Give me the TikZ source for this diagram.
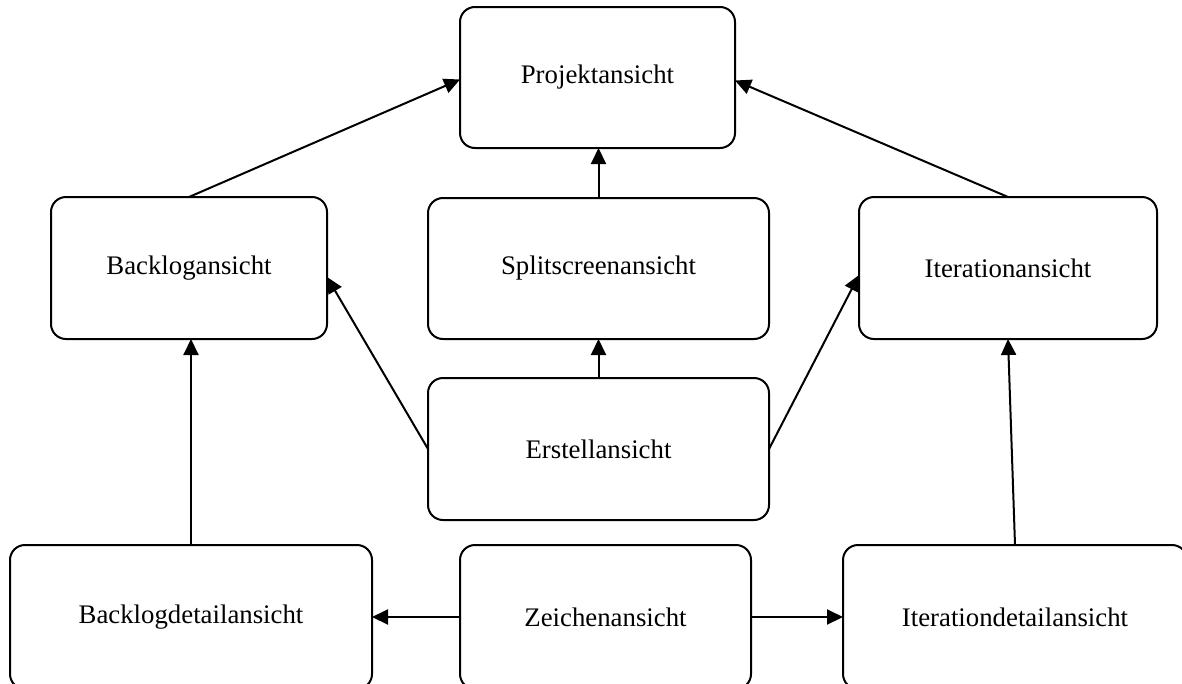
\documentclass[tikz,border=0pt]{standalone}
\usepackage{fontspec}
\setmainfont{Liberation Serif}
\usetikzlibrary{arrows.meta}
\begin{document}
\begin{tikzpicture}[x=1pt,y=-1pt,
  view/.style={draw=black, line width=2pt, rounded corners=15pt, fill=white,
    outer sep=0pt, inner sep=0pt, align=center,
    font=\fontsize{26.8}{32}\selectfont},
  link/.style={draw=black, line width=2pt, -{Triangle[length=16pt,width=15pt]}}]
  \useasboundingbox (0,0) rectangle (1182,683);
  \clip (0,0) rectangle (1182,683);

  % views
  \node[view, minimum width=275pt, minimum height=141pt] (proj)    at (597.5,77.5) {Projektansicht};
  \node[view, minimum width=276pt, minimum height=142pt] (backlog) at (189,268)    {Backlogansicht};
  \node[view, minimum width=341pt, minimum height=141pt] (split)   at (598.5,268.5){Splitscreenansicht};
  \node[view, minimum width=298pt, minimum height=142pt] (iter)    at (1008,268)   {Iterationansicht};
  \node[view, minimum width=341pt, minimum height=142pt] (erst)    at (598.5,449)  {Erstellansicht};
  \node[view, minimum width=362pt, minimum height=144pt] (bdetail) at (191,617)    {Backlogdetailansicht};
  \node[view, minimum width=291pt, minimum height=144pt] (zeichen) at (605.5,617)  {Zeichenansicht};
  \node[view, minimum width=344pt, minimum height=144pt] (idetail) at (1015,617)   {Iterationdetailansicht};

  % navigation
  \draw[link] (backlog.north) -- ([yshift=-2pt]proj.west);
  \draw[link] (iter.north) -- ([yshift=-3pt]proj.east);
  \draw[link] (split.north) -- (split.north |- proj.south);
  \draw[link] (erst.north) -- (split.south);
  \draw[link] (erst.west) -- ([yshift=-9pt]backlog.east);
  \draw[link] (erst.east) -- ([yshift=-7pt]iter.west);
  \draw[link] (bdetail.north) -- (bdetail.north |- backlog.south);
  \draw[link] (idetail.north) -- (iter.south);
  \draw[link] (zeichen.west) -- (bdetail.east);
  \draw[link] (zeichen.east) -- (idetail.west);
\end{tikzpicture}
\end{document}
